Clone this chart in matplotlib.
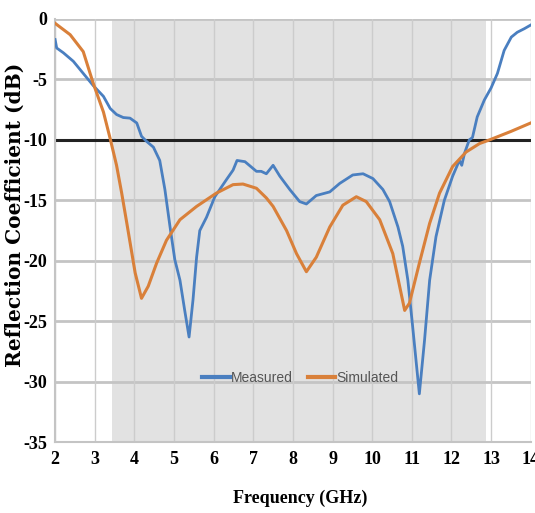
import matplotlib
matplotlib.use('Agg')
import matplotlib.pyplot as plt

# Measured S11 (GHz, dB)
MEAS_F = [2.0, 2.04, 2.21, 2.46, 2.71, 2.96, 3.22, 3.39, 3.55, 3.72, 3.89,
          4.06, 4.18, 4.3, 4.48, 4.64, 4.77, 4.9, 5.02, 5.15, 5.27, 5.38,
          5.48, 5.57, 5.65, 5.82, 6.03, 6.32, 6.49, 6.59, 6.79, 7.08, 7.2,
          7.33, 7.5, 7.67, 7.92, 8.17, 8.34, 8.59, 8.93, 9.18, 9.51, 9.77,
          10.02, 10.27, 10.44, 10.65, 10.77, 10.9, 11.02, 11.19, 11.32,
          11.45, 11.61, 11.82, 12.03, 12.2, 12.26, 12.33, 12.45, 12.53,
          12.65, 12.83, 13.0, 13.16, 13.33, 13.51, 13.66, 13.84, 14.0]
MEAS_DB = [-1.7, -2.4, -2.8, -3.5, -4.5, -5.5, -6.4, -7.4, -7.9, -8.15, -8.2,
           -8.6, -9.7, -10.1, -10.6, -11.7, -14.1, -17.2, -19.9, -21.6,
           -24.1, -26.3, -23.2, -19.7, -17.5, -16.4, -14.7, -13.3, -12.5,
           -11.7, -11.8, -12.6, -12.6, -12.8, -12.1, -13.0, -14.1, -15.1,
           -15.3, -14.6, -14.3, -13.6, -12.9, -12.8, -13.2, -14.1, -15.1,
           -17.2, -18.8, -21.6, -25.4, -31.0, -26.6, -21.6, -18.0, -15.0,
           -13.0, -11.7, -12.1, -11.1, -10.0, -9.8, -8.1, -6.7, -5.7, -4.5,
           -2.6, -1.5, -1.1, -0.8, -0.5]

# Simulated S11 (GHz, dB)
SIM_F = [2.0, 2.38, 2.71, 2.96, 3.22, 3.39, 3.55, 3.68, 3.81, 4.02, 4.18,
         4.35, 4.56, 4.81, 5.15, 5.57, 6.07, 6.49, 6.74, 7.08, 7.33, 7.5,
         7.84, 8.09, 8.34, 8.59, 8.93, 9.26, 9.6, 9.85, 10.19, 10.52,
         10.82, 10.94, 11.19, 11.45, 11.7, 12.03, 12.37, 12.71, 12.96,
         13.5, 14.0]
SIM_DB = [-0.36, -1.3, -2.7, -5.3, -7.7, -9.9, -12.1, -14.4, -16.9, -21.0,
          -23.1, -22.1, -20.2, -18.3, -16.6, -15.5, -14.4, -13.7, -13.65,
          -14.0, -14.8, -15.5, -17.5, -19.4, -20.9, -19.7, -17.2, -15.4,
          -14.7, -15.1, -16.6, -19.4, -24.1, -23.5, -20.2, -16.9, -14.4,
          -12.2, -11.0, -10.3, -10.0, -9.3, -8.6]

BAND = (3.44, 12.88)
THRESHOLD = -10
X_TICKS = list(range(2, 15))
Y_TICKS = [0, -5, -10, -15, -20, -25, -30, -35]

BLUE = '#4a7fc0'
ORANGE = '#d9803a'

fig = plt.figure(figsize=(5.35, 5.13), dpi=100)
ax = fig.add_axes([0.103, 0.138, 0.889, 0.825])

ax.axvspan(BAND[0], BAND[1], color='#e2e2e2', zorder=0, lw=0)
for y in Y_TICKS:
    ax.axhline(y, color='#c4c4c4', lw=2.0, zorder=1)
for x in X_TICKS:
    ax.axvline(x, color='#cccccc', lw=1.0, zorder=1)
ax.axhline(THRESHOLD, color='#222222', lw=2.2, zorder=2)

ax.plot(MEAS_F, MEAS_DB, color=BLUE, lw=2.0, label='Measured', zorder=3,
        solid_joinstyle='round')
ax.plot(SIM_F, SIM_DB, color=ORANGE, lw=2.2, label='Simulated', zorder=3,
        solid_joinstyle='round')

ax.set_xlim(2, 14)
ax.set_ylim(-35, 0)
ax.set_xticks(X_TICKS)
ax.set_yticks(Y_TICKS)
tick_font = dict(family='Liberation Serif', weight='bold', size=13)
ax.set_xticklabels([str(t) for t in X_TICKS], fontdict=tick_font)
ax.set_yticklabels([str(t) for t in Y_TICKS], fontdict=tick_font)
ax.tick_params(length=0, pad=6)
for side in ['top', 'right']:
    ax.spines[side].set_visible(False)
for side in ['left', 'bottom']:
    ax.spines[side].set_color('#c4c4c4')
    ax.spines[side].set_linewidth(1.5)

fig.text(300 / 535, 1 - 498 / 513, 'Frequency (GHz)', family='Liberation Serif',
         weight='bold', size=13, ha='center', va='center')
fig.text(15 / 535, 1 - 215 / 513, 'Reflection Coefficient (dB)',
         family='DejaVu Serif', weight='bold', size=14.5, rotation=90,
         ha='center', va='center')

leg = ax.legend(loc='center', bbox_to_anchor=(0.515, 0.151), ncol=2,
                frameon=False, handlelength=2.0, columnspacing=1.1,
                handletextpad=0.05, prop=dict(family='Liberation Sans', size=10))
for h in leg.get_lines():
    h.set_linewidth(3)
for t in leg.get_texts():
    t.set_color('#555555')

fig.savefig('out.png', dpi=100)
